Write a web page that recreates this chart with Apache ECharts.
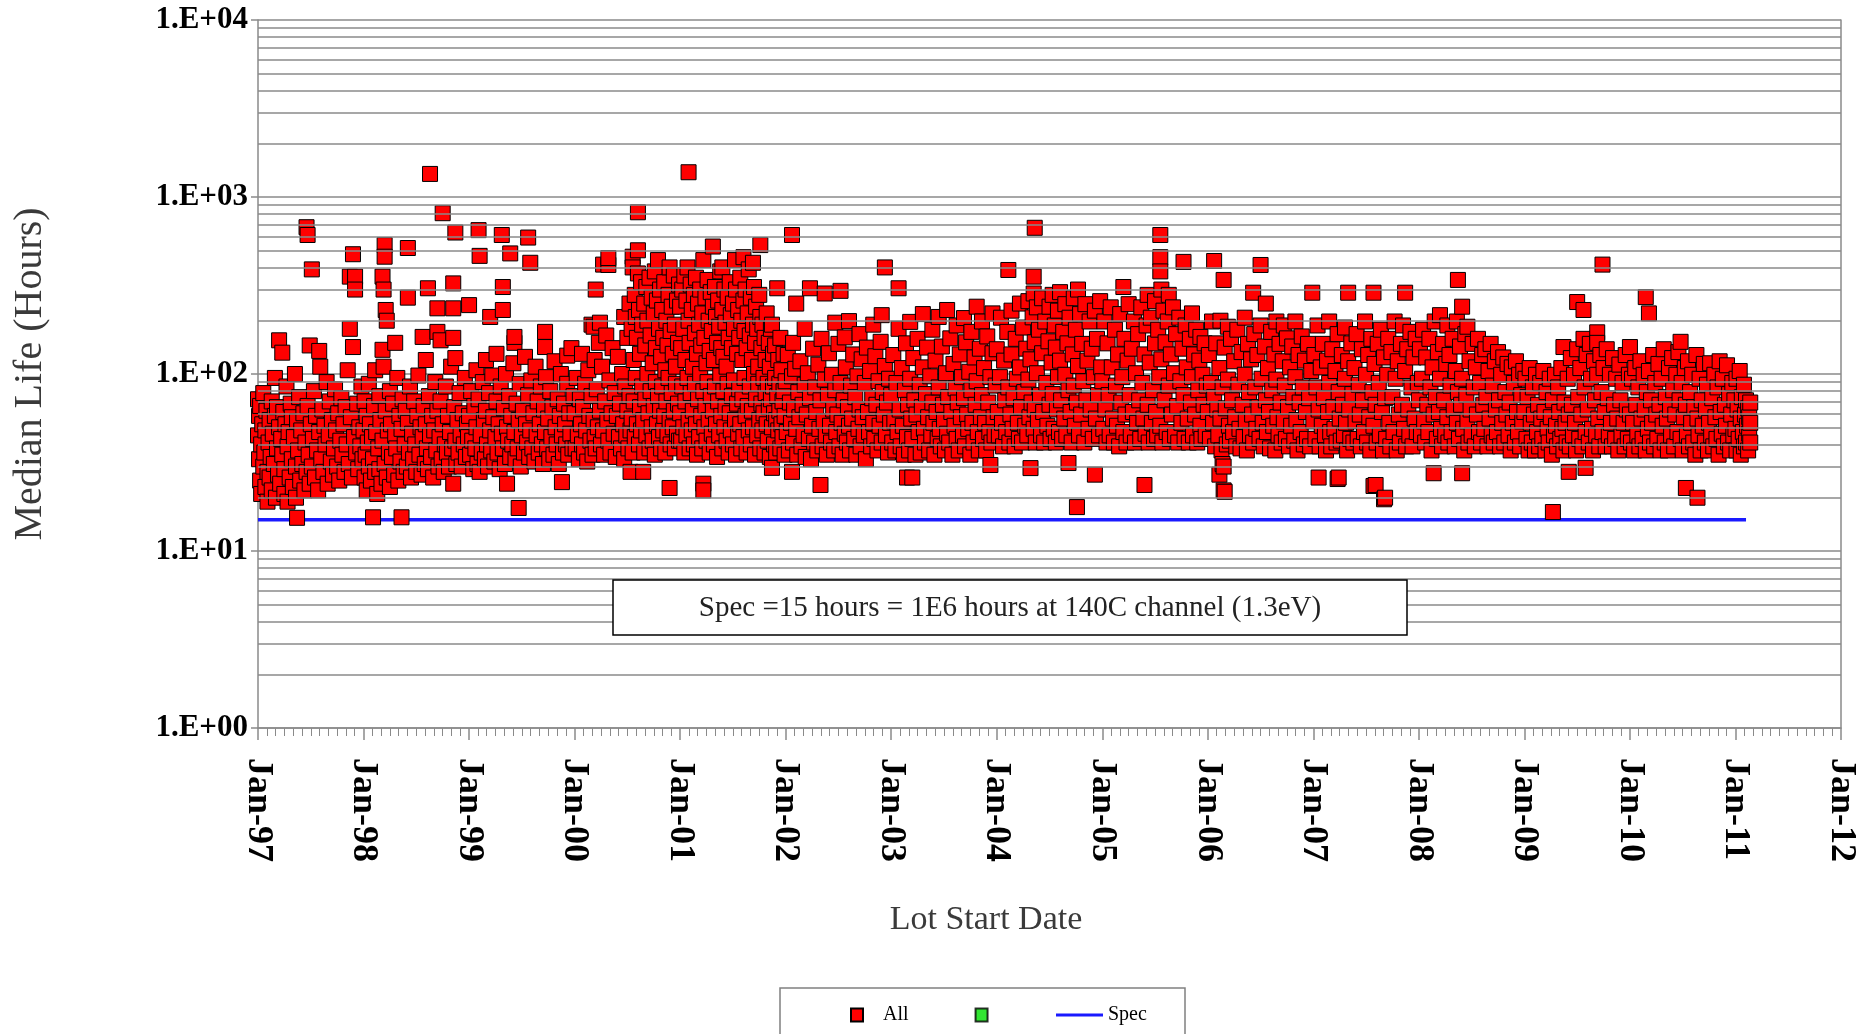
<!DOCTYPE html>
<html>
<head>
<meta charset="utf-8">
<script src="https://cdn.jsdelivr.net/npm/echarts@6/dist/echarts.min.js"></script>
<style>
html,body{margin:0;padding:0;background:#fff;}
#chart{width:1862px;height:1034px;}
</style>
</head>
<body>
<div id="chart"></div>
<script>
// Each entry: [hundredths of the year, median life in hours]
const lots1997 = [[0,72],[0,45],[1,33],[1,58],[2,25],[2,66],[3,40],[3,21],[4,52],[5,30],[5,78],[6,36],[7,23],[7,48],[8,62],[9,28],[9,19],[10,41],[11,55],[11,26],[12,34],[13,70],[13,22],[14,46],[15,31],[16,95],[16,58],[17,20],[18,38],[18,65],[19,27],[20,155],[20,50],[21,24],[22,43],[23,132],[23,35],[24,61],[25,21],[25,29],[26,52],[27,85],[28,39],[28,19],[29,47],[30,26],[31,68],[32,33],[32,57],[33,23],[34,44],[35,100],[36,30],[36,20],[37,15.4],[37,54],[38,37],[39,74],[40,25],[41,48],[42,31],[43,60],[44,22],[45,41],[46,675],[46,28],[47,610],[47,66],[48,35],[49,145],[49,24],[50,52],[51,390],[51,30],[52,43],[53,80],[54,26],[55,58],[56,37],[57,22],[58,135],[58,47],[59,110],[60,33],[61,63],[62,28],[63,51],[64,40],[65,90],[66,24],[67,45],[68,70],[69,32],[70,55],[71,27],[72,38],[73,82],[74,48],[75,30],[76,60],[77,25],[78,42],[79,73],[80,35],[81,52],[82,28],[83,65],[84,40],[85,105],[86,31],[87,355],[87,180],[88,57],[89,26],[90,475],[90,142],[91,44],[92,355],[92,300],[93,36],[94,68],[95,29],[96,50],[97,39],[98,85],[99,33]];
const lots1998 = [[0,48],[1,26],[1,70],[2,35],[3,22],[3,58],[4,41],[5,30],[5,88],[6,52],[7,25],[8,44],[9,15.5],[9,33],[10,66],[11,28],[11,105],[12,47],[13,21],[14,38],[15,75],[15,29],[16,55],[17,24],[18,137],[18,355],[18,42],[19,110],[19,300],[20,535],[20,460],[20,31],[21,230],[21,62],[22,200],[22,26],[23,48],[24,36],[25,80],[25,23],[26,52],[27,34],[28,68],[29,27],[30,150],[30,45],[31,38],[32,95],[33,25],[34,58],[35,32],[36,15.5],[36,49],[37,72],[38,28],[39,40],[40,62],[41,30],[42,515],[42,270],[42,53],[43,36],[44,85],[45,26],[46,46],[47,33],[48,70],[49,40],[50,28],[51,58],[52,98],[53,35],[54,50],[55,27],[56,162],[56,44],[57,66],[58,31],[59,120],[59,52],[60,38],[61,305],[61,29],[62,75],[63,1350],[63,45],[64,34],[65,58],[66,26],[67,48],[68,90],[69,37],[70,235],[70,173],[70,62],[71,30],[72,44],[73,155],[73,70],[74,33],[75,810],[75,52],[76,28],[77,40],[78,85],[79,36],[80,58],[81,30],[82,47],[83,110],[84,38],[85,235],[85,325],[85,24],[85,160],[86,65],[87,630],[87,123],[87,42],[88,31],[89,55],[90,36],[91,78],[92,45],[93,30],[94,60],[95,40],[96,95],[97,34],[98,52],[99,44]];
const lots1999 = [[0,245],[0,58],[1,35],[2,80],[3,42],[4,29],[5,66],[6,38],[7,105],[7,50],[8,31],[9,650],[9,72],[10,465],[10,28],[11,45],[12,36],[13,90],[14,55],[15,33],[16,120],[16,62],[17,40],[18,30],[19,78],[20,210],[20,48],[21,37],[22,98],[23,57],[24,32],[25,44],[26,130],[26,70],[27,36],[28,52],[29,29],[30,85],[31,610],[31,46],[32,310],[32,230],[32,38],[33,64],[34,31],[35,100],[36,24],[36,50],[37,42],[38,75],[39,480],[39,34],[40,58],[41,40],[42,115],[43,150],[43,162],[43,47],[44,33],[45,68],[46,38],[47,17.5],[47,55],[48,88],[49,30],[50,45],[51,62],[52,36],[53,125],[54,52],[55,41],[56,590],[56,76],[57,34],[58,425],[58,48],[59,92],[60,38],[61,60],[62,32],[63,110],[64,45],[65,70],[66,36],[67,52],[68,85],[69,40],[70,31],[71,63],[72,173],[72,142],[72,47],[73,96],[74,38],[75,56],[76,33],[77,80],[78,44],[79,65],[80,35],[81,118],[82,50],[83,40],[84,72],[85,31],[86,58],[87,100],[88,24.5],[88,45],[89,36],[90,68],[91,52],[92,40],[93,127],[93,88],[94,35],[95,60],[96,46],[97,140],[98,38],[99,75]];
const lots2000 = [[0,60],[1,38],[2,95],[3,45],[4,33],[5,72],[6,52],[7,130],[7,40],[8,65],[9,36],[10,88],[11,48],[12,32],[13,105],[14,58],[15,42],[16,190],[16,75],[17,35],[18,185],[18,55],[19,120],[19,44],[20,300],[20,38],[21,82],[22,50],[23,150],[24,195],[24,62],[25,40],[26,110],[27,415],[27,48],[28,35],[29,70],[30,165],[31,55],[32,413],[32,452],[32,42],[33,92],[34,36],[35,60],[36,140],[37,46],[38,78],[39,34],[40,58],[41,125],[42,44],[43,68],[44,38],[45,100],[46,52],[47,210],[47,33],[48,85],[49,45],[50,160],[50,62],[51,38],[52,250],[52,75],[53,28],[53,48],[54,180],[54,56],[55,460],[55,400],[55,36],[56,120],[56,70],[57,280],[57,44],[58,210],[58,95],[59,160],[59,52],[60,820],[60,500],[60,370],[61,230],[61,40],[62,130],[62,65],[63,330],[63,48],[64,190],[64,85],[65,28],[65,55],[66,250],[66,36],[67,145],[67,72],[68,310],[68,45],[69,200],[69,100],[70,60],[71,350],[71,38],[72,165],[72,80],[73,270],[73,50],[74,115],[74,42],[75,220],[75,66],[76,380],[76,35],[77,140],[77,90],[78,260],[78,52],[79,440],[79,75],[80,180],[80,44],[81,300],[81,62],[82,125],[82,38],[83,230],[83,85],[84,160],[84,48],[85,330],[85,58],[86,105],[86,36],[87,200],[87,70],[88,145],[88,45],[89,280],[89,95],[90,400],[90,22.7],[90,55],[91,175],[91,40],[92,240],[92,78],[93,130],[93,50],[94,360],[94,62],[95,190],[95,38],[96,110],[96,88],[97,260],[97,46],[98,150],[98,68],[99,320],[99,42]];
const lots2001 = [[0,240],[0,60],[1,140],[1,42],[2,300],[2,85],[3,180],[3,50],[4,360],[4,36],[5,120],[5,70],[6,260],[6,45],[7,400],[7,95],[8,1380],[8,200],[8,55],[9,150],[9,38],[10,320],[10,78],[11,230],[11,48],[12,110],[12,62],[13,280],[13,40],[14,170],[14,88],[15,350],[15,52],[16,130],[16,35],[17,250],[17,72],[18,190],[18,44],[19,300],[19,100],[20,145],[20,58],[21,220],[21,38],[22,440],[22,24],[22,22],[22,80],[23,160],[23,50],[24,270],[24,66],[25,115],[25,42],[26,340],[26,90],[27,200],[27,55],[28,135],[28,36],[29,290],[29,75],[30,175],[30,46],[31,525],[31,240],[31,62],[32,120],[32,40],[33,310],[33,85],[34,210],[34,52],[35,150],[35,34],[36,260],[36,70],[37,185],[37,45],[38,380],[38,98],[39,140],[39,58],[40,400],[40,230],[40,38],[41,125],[41,80],[42,300],[42,50],[43,195],[43,65],[44,110],[44,42],[45,270],[45,88],[46,160],[46,36],[47,330],[47,60],[48,215],[48,48],[49,140],[49,75],[50,250],[50,40],[51,180],[51,92],[52,440],[52,55],[53,300],[53,35],[54,130],[54,68],[55,230],[55,46],[56,160],[56,82],[57,350],[57,52],[58,200],[58,38],[59,120],[59,72],[60,457],[60,260],[60,44],[61,175],[61,95],[62,300],[62,58],[63,140],[63,36],[64,220],[64,66],[65,390],[65,48],[66,165],[66,85],[67,270],[67,40],[68,120],[68,62],[69,425],[69,190],[69,50],[70,310],[70,100],[71,150],[71,35],[72,240],[72,72],[73,180],[73,45],[74,110],[74,88],[75,280],[75,55],[76,535],[76,210],[76,38],[77,140],[77,68],[78,190],[78,48],[79,95],[79,60],[80,160],[80,36],[81,120],[81,78],[82,220],[82,52],[83,88],[83,42],[84,150],[84,65],[85,110],[85,34],[86,180],[86,72],[87,190],[87,29.5],[87,50],[88,130],[88,85],[89,60],[89,40],[90,145],[90,95],[91,55],[91,36],[92,305],[92,75],[93,120],[93,48],[94,88],[94,62],[95,160],[95,38],[96,105],[96,52],[97,70],[97,44],[98,130],[98,80],[99,58],[99,35]];
const lots2002 = [[0,91],[1,47],[2,128],[3,37],[4,69],[5,53],[6,610],[6,28],[6,97],[7,150],[7,41],[8,63],[9,107],[10,250],[10,49],[11,35],[12,79],[13,57],[14,118],[15,39],[16,67],[17,45],[18,180],[18,87],[19,34],[20,59],[21,101],[22,43],[23,305],[23,73],[24,33],[25,51],[26,139],[27,41],[28,84],[29,61],[30,37],[31,113],[32,49],[33,23.6],[33,71],[34,158],[35,39],[36,54],[37,285],[37,93],[38,45],[39,35],[40,76],[41,131],[42,51],[43,41],[44,99],[45,63],[46,37],[47,195],[47,81],[48,47],[49,59],[50,148],[51,39],[52,295],[52,89],[53,53],[54,35],[55,71],[56,161],[56,46],[57,109],[58,41],[59,65],[60,199],[60,51],[61,37],[62,86],[63,56],[64,129],[65,43],[66,74],[67,35],[68,97],[69,49],[70,168],[70,63],[71,39],[72,121],[73,57],[74,45],[75,89],[76,33],[77,141],[78,61],[79,47],[80,104],[81,39],[82,73],[83,190],[83,53],[84,43],[85,126],[86,67],[87,37],[88,91],[89,51],[90,152],[91,215],[91,41],[92,79],[93,59],[94,400],[94,111],[95,45],[96,69],[97,36],[98,94],[99,53]];
const lots2003 = [[0,76],[1,41],[2,128],[3,54],[4,37],[5,89],[6,47],[7,305],[7,180],[8,63],[9,39],[10,108],[11,51],[12,35],[13,81],[14,149],[15,26],[15,44],[16,67],[17,37],[18,197],[18,94],[19,56],[20,26],[20,43],[21,123],[22,71],[23,35],[24,59],[25,158],[26,47],[27,87],[28,36],[29,65],[30,218],[30,109],[31,49],[32,41],[33,77],[34,141],[35,57],[36,37],[37,97],[38,45],[39,178],[39,69],[40,53],[41,35],[42,119],[43,61],[44,43],[45,210],[45,84],[46,49],[47,39],[48,143],[49,67],[50,55],[51,37],[52,101],[53,230],[53,46],[54,74],[55,41],[56,159],[57,61],[58,35],[59,114],[60,51],[61,83],[62,188],[62,43],[63,69],[64,37],[65,129],[66,57],[67,96],[68,45],[69,207],[69,73],[70,39],[71,151],[72,59],[73,49],[74,103],[75,35],[76,173],[76,81],[77,53],[78,41],[79,124],[80,67],[81,240],[81,91],[82,47],[83,37],[84,139],[85,57],[86,198],[86,76],[87,43],[88,108],[89,53],[90,37],[91,163],[92,69],[93,47],[94,30.6],[94,96],[95,41],[96,220],[96,131],[97,57],[98,45],[99,86]];
const lots2004 = [[0,138],[1,61],[2,45],[3,96],[4,208],[5,53],[6,39],[7,119],[8,71],[9,47],[10,173],[11,387],[11,84],[12,41],[13,59],[14,228],[14,129],[15,49],[16,73],[17,39],[18,158],[19,94],[20,53],[21,43],[22,250],[22,109],[23,65],[24,41],[25,183],[26,79],[27,51],[28,139],[29,45],[30,258],[30,93],[31,57],[32,29.4],[32,121],[33,69],[34,209],[35,285],[35,355],[35,49],[36,670],[36,151],[36,63],[37,41],[38,238],[38,101],[39,55],[40,178],[41,76],[42,45],[43,268],[43,131],[44,61],[45,41],[46,198],[47,89],[48,51],[49,153],[50,240],[50,67],[51,43],[52,116],[53,280],[53,77],[54,49],[55,188],[56,141],[56,41],[57,63],[58,228],[58,96],[59,47],[60,290],[60,119],[61,71],[62,43],[63,173],[64,56],[65,248],[65,99],[66,45],[67,149],[68,31.4],[68,81],[69,208],[70,61],[71,41],[72,129],[73,268],[73,86],[74,51],[75,178],[76,17.7],[76,69],[77,300],[77,111],[78,45],[79,218],[80,59],[81,148],[82,91],[83,41],[84,248],[85,71],[86,119],[87,49],[88,198],[89,63],[90,139],[91,43],[92,96],[93,27],[93,228],[94,56],[95,158],[96,76],[97,45],[98,258],[99,109]];
const lots2005 = [[0,91],[1,49],[2,198],[3,63],[4,41],[5,149],[6,76],[7,45],[8,238],[9,109],[10,56],[11,41],[12,178],[13,86],[14,51],[15,129],[16,39],[17,218],[18,69],[19,96],[20,310],[20,47],[21,158],[22,59],[23,41],[24,119],[25,248],[26,76],[27,45],[28,139],[29,61],[30,198],[31,41],[32,101],[33,53],[34,168],[35,71],[36,43],[37,238],[38,89],[39,56],[40,23.6],[40,129],[41,46],[42,188],[43,280],[43,67],[44,41],[45,116],[46,208],[47,53],[48,81],[49,43],[50,258],[50,149],[51,61],[52,45],[53,178],[54,96],[55,610],[55,457],[55,380],[55,51],[56,300],[56,121],[57,41],[58,228],[59,71],[60,151],[61,47],[62,198],[63,280],[63,86],[64,43],[65,129],[66,59],[67,238],[68,101],[69,45],[70,168],[71,66],[72,41],[73,208],[74,91],[75,53],[76,139],[77,430],[77,76],[78,43],[79,188],[80,109],[81,56],[82,41],[83,158],[84,69],[85,220],[85,96],[86,45],[87,129],[88,59],[89,178],[90,41],[91,81],[92,119],[93,162],[93,51],[94,43],[95,99],[96,67],[97,149],[98,45],[99,86]];
const lots2006 = [[0,61],[1,128],[2,43],[3,89],[4,198],[5,53],[6,435],[6,74],[7,39],[8,149],[9,63],[10,45],[11,27],[11,108],[12,200],[12,56],[13,37],[14,31],[14,84],[15,340],[15,22],[15,30],[16,21.6],[16,141],[17,64],[18,40],[19,185],[19,93],[20,51],[21,42],[22,158],[23,71],[24,47],[25,118],[26,57],[27,39],[28,178],[29,87],[30,49],[31,38],[32,133],[33,67],[34,44],[35,208],[35,99],[36,54],[37,37],[38,148],[39,79],[40,45],[41,121],[42,59],[43,288],[43,41],[44,168],[45,84],[46,49],[47,128],[48,65],[49,43],[50,413],[50,188],[51,94],[52,53],[53,39],[54,143],[55,250],[55,71],[56,47],[57,108],[58,61],[59,38],[60,173],[61,81],[62,51],[63,129],[64,37],[65,198],[65,93],[66,57],[67,45],[68,148],[69,69],[70,41],[71,118],[72,188],[72,54],[73,86],[74,43],[75,159],[76,65],[77,39],[78,109],[79,51],[80,143],[81,74],[82,42],[83,198],[83,96],[84,55],[85,37],[86,128],[87,69],[88,47],[89,163],[90,84],[91,40],[92,119],[93,61],[94,43],[95,148],[96,73],[97,39],[98,104],[99,288]];
const lots2007 = [[0,54],[1,128],[2,43],[3,84],[4,188],[5,26],[5,63],[6,39],[7,109],[8,51],[9,148],[10,73],[11,45],[12,37],[13,119],[14,61],[15,198],[15,89],[16,47],[17,39],[18,138],[19,65],[20,49],[21,104],[22,41],[23,25.5],[23,168],[24,26],[24,79],[25,56],[26,42],[27,128],[28,67],[29,45],[30,183],[30,94],[31,53],[32,37],[33,288],[33,118],[34,63],[35,43],[36,149],[37,77],[38,41],[39,108],[40,54],[41,168],[42,43],[43,87],[44,59],[45,39],[46,138],[47,71],[48,47],[49,198],[50,99],[51,41],[52,128],[53,57],[54,37],[55,158],[56,79],[57,23.3],[57,288],[57,51],[58,114],[59,23.6],[59,67],[60,41],[61,148],[62,89],[63,45],[64,178],[65,61],[66,37],[67,19.6],[67,124],[68,20],[68,73],[69,43],[70,99],[71,158],[72,53],[73,39],[74,133],[75,74],[76,47],[77,198],[78,94],[79,37],[80,118],[81,59],[82,41],[83,148],[84,67],[85,188],[86,49],[87,288],[87,104],[88,39],[89,138],[90,63],[91,45],[92,173],[93,84],[94,39],[95,124],[96,56],[97,158],[98,47],[99,89]];
const lots2008 = [[0,71],[1,138],[2,45],[3,94],[4,178],[5,54],[6,41],[7,124],[8,67],[9,47],[10,158],[11,84],[12,37],[13,109],[14,27.5],[14,59],[15,198],[16,74],[17,43],[18,133],[19,61],[20,215],[20,94],[21,49],[22,39],[23,148],[24,71],[25,45],[26,114],[27,188],[27,57],[28,41],[29,128],[30,86],[31,47],[32,158],[33,63],[34,39],[35,104],[36,198],[36,53],[37,340],[37,79],[38,43],[39,143],[40,67],[41,240],[41,27.5],[41,94],[42,49],[43,37],[44,168],[45,76],[46,185],[46,54],[47,41],[48,118],[49,63],[50,45],[51,148],[52,84],[53,39],[54,109],[55,59],[56,158],[57,47],[58,89],[59,41],[60,128],[61,67],[62,49],[63,138],[64,74],[65,39],[66,104],[67,56],[68,148],[69,45],[70,86],[71,41],[72,118],[73,63],[74,47],[75,133],[76,71],[77,39],[78,99],[79,53],[80,124],[81,41],[82,79],[83,59],[84,114],[85,45],[86,69],[87,37],[88,109],[89,53],[90,89],[91,41],[92,118],[93,61],[94,47],[95,99],[96,39],[97,76],[98,54],[99,104]];
const lots2009 = [[0,61],[1,94],[2,43],[3,74],[4,37],[5,108],[6,53],[7,41],[8,84],[9,59],[10,37],[11,99],[12,47],[13,67],[14,39],[15,89],[16,56],[17,43],[18,104],[19,61],[20,37],[21,79],[22,49],[23,41],[24,94],[25,57],[26,35],[27,16.6],[27,71],[28,45],[29,99],[30,51],[31,39],[32,84],[33,61],[34,43],[35,108],[36,49],[37,142],[37,37],[38,69],[39,53],[40,41],[41,94],[42,28],[42,59],[43,39],[44,123],[45,67],[46,45],[47,99],[48,53],[49,37],[50,255],[50,138],[51,74],[52,43],[53,108],[54,59],[55,39],[56,230],[56,158],[57,84],[58,29.5],[58,47],[59,128],[60,63],[61,41],[62,148],[63,94],[64,49],[65,37],[66,118],[67,71],[68,45],[69,172],[69,150],[69,99],[70,56],[71,39],[72,128],[73,79],[74,415],[74,47],[75,108],[76,61],[77,39],[78,138],[79,73],[80,45],[81,99],[82,53],[83,39],[84,123],[85,67],[86,43],[87,94],[88,56],[89,37],[90,113],[91,71],[92,45],[93,89],[94,53],[95,39],[96,128],[97,63],[98,43],[99,99]];
const lots2010 = [[0,142],[0,59],[1,41],[2,94],[3,53],[4,37],[5,108],[6,67],[7,45],[8,84],[9,39],[10,118],[11,56],[12,43],[13,99],[14,63],[15,272],[15,37],[16,79],[17,49],[18,220],[18,104],[19,41],[20,71],[21,53],[22,128],[23,39],[24,89],[25,59],[26,43],[27,114],[28,67],[29,37],[30,94],[31,51],[32,138],[33,41],[34,74],[35,56],[36,37],[37,108],[38,63],[39,45],[40,123],[41,81],[42,39],[43,59],[44,99],[45,47],[46,133],[47,71],[48,152],[48,43],[49,89],[50,37],[51,57],[52,108],[53,22.7],[53,67],[54,45],[55,118],[56,39],[57,79],[58,53],[59,99],[60,41],[61,65],[62,35],[63,128],[64,20],[64,56],[65,45],[66,94],[67,37],[68,71],[69,51],[70,114],[71,41],[72,63],[73,87],[74,37],[75,53],[76,115],[77,45],[78,73],[79,39],[80,99],[81,57],[82,43],[83,84],[84,35],[85,118],[86,61],[87,46],[88,94],[89,39],[90,67],[91,51],[92,112],[93,41],[94,77],[95,37],[96,59],[97,89],[98,45],[99,71]];
const lots2011 = [[0,49],[1,94],[1,37],[2,63],[3,43],[4,104],[5,56],[5,35],[6,74],[7,47],[8,39],[8,87],[9,59],[10,41],[10,71],[11,51],[12,37],[12,64],[13,46],[13,57],[14,69],[14,41],[14,53]];

const lotYears = [1997,1998,1999,2000,2001,2002,2003,2004,2005,2006,2007,2008,2009,2010,2011];
const lotTables = [lots1997,lots1998,lots1999,lots2000,lots2001,lots2002,lots2003,lots2004,lots2005,lots2006,lots2007,lots2008,lots2009,lots2010,lots2011];

const specHours = 15;
const specSpan = [1997, 2011.1];
const yDecades = [1, 10, 100, 1000, 10000];
const xYearMin = 1997, xYearMax = 2012;
const specNote = 'Spec =15 hours = 1E6 hours at 140C channel (1.3eV)';

// build scatter data
const allData = [];
lotTables.forEach((tbl, i) => {
  tbl.forEach(p => allData.push([lotYears[i] + p[0] / 100, p[1]]));
});
// minor log grid lines (2..9 within each decade)
const minorGrid = [];
for (let d = 0; d < yDecades.length - 1; d++) {
  for (let k = 2; k <= 9; k++) minorGrid.push({ yAxis: yDecades[d] * k });
}

const FONT = '"Liberation Serif","Times New Roman",serif';
const GRID = '#8a8a8a';
const chart = echarts.init(document.getElementById('chart'), null, { renderer: 'canvas' });
chart.setOption({
  animation: false,
  backgroundColor: '#ffffff',
  grid: { left: 258, right: 21, top: 20, bottom: 306 },
  xAxis: {
    type: 'value', min: xYearMin, max: xYearMax, interval: 1,
    name: 'Lot Start Date', nameLocation: 'middle', nameGap: 175,
    nameTextStyle: { fontFamily: FONT, fontSize: 34, color: '#3a3a3a', padding: [0, 127, 0, 0] },
    axisLine: { show: true, lineStyle: { color: GRID, width: 1.5 } },
    axisTick: { show: true, length: 12, lineStyle: { color: GRID, width: 1.5 } },
    minorTick: { show: true, splitNumber: 12, length: 8, lineStyle: { color: GRID, width: 1 } },
    splitLine: { show: false },
    axisLabel: {
      rotate: -90, margin: 30, fontFamily: FONT, fontWeight: 'bold', fontSize: 36, color: '#000',
      formatter: v => 'Jan-' + String(Math.round(v)).slice(2)
    }
  },
  yAxis: [{
    type: 'log', logBase: 10, min: 1, max: 10000,
    name: 'Median Life (Hours)', nameLocation: 'middle', nameGap: 208, nameRotate: 90,
    nameTextStyle: { fontFamily: FONT, fontSize: 40, color: '#3a3a3a' },
    axisLine: { show: true, lineStyle: { color: GRID, width: 1.5 } },
    axisTick: { show: true, length: 7, lineStyle: { color: GRID, width: 1.5 } },
    splitLine: { show: true, lineStyle: { color: GRID, width: 1.5 } },
    axisLabel: {
      margin: 10, fontFamily: FONT, fontWeight: 'bold', fontSize: 31, color: '#000',
      formatter: v => '1.E+' + String(Math.round(Math.log10(v))).padStart(2, '0')
    }
  }, {
    type: 'log', logBase: 10, min: 1, max: 10000, position: 'right',
    axisLine: { show: true, lineStyle: { color: GRID, width: 1.5 } },
    axisTick: { show: false }, axisLabel: { show: false }, splitLine: { show: false }
  }],
  legend: [{
    data: ['All', ' '],
    left: 845, top: 1000, itemWidth: 12, itemHeight: 13, itemGap: 66,
    formatter: n => (n === 'All' ? '   All' : n),
    textStyle: { fontFamily: FONT, fontSize: 20, color: '#000' }
  }, {
    data: [{ name: 'Spec', icon: 'rect' }],
    left: 1051, top: 1000, itemWidth: 47, itemHeight: 3,
    textStyle: { fontFamily: FONT, fontSize: 20, color: '#000' }
  }],
  graphic: [{
    type: 'rect', shape: { x: 613, y: 580, width: 794, height: 55 }, z: 50,
    style: { fill: '#fff', stroke: '#000', lineWidth: 1.5 }
  }, {
    type: 'text', x: 1010, y: 608, z: 51,
    style: { text: specNote, fontFamily: FONT, fontSize: 29, fill: '#222', align: 'center', verticalAlign: 'middle' }
  }, {
    type: 'rect', shape: { x: 780, y: 988, width: 405, height: 70 }, z: 1, silent: true,
    style: { fill: 'none', stroke: '#808080', lineWidth: 1.5 }
  }],
  series: [{
    name: 'grid-minor', type: 'line', data: [], z: 1, silent: true,
    markLine: {
      silent: true, symbol: ['none', 'none'], animation: false,
      label: { show: false },
      lineStyle: { color: GRID, width: 1.5, type: 'solid' },
      data: minorGrid
    }
  }, {
    name: 'Spec', type: 'line', symbol: 'none', z: 2,
    data: [[specSpan[0], specHours], [specSpan[1], specHours]],
    lineStyle: { color: '#1a1aff', width: 3.5 },
    itemStyle: { color: '#1a1aff' }
  }, {
    name: 'All', type: 'scatter', symbol: 'rect', symbolSize: 15, z: 3, large: false,
    data: allData,
    itemStyle: { color: '#ff0000', borderColor: '#000', borderWidth: 1, opacity: 1 }
  }, {
    name: ' ', type: 'scatter', symbol: 'rect', symbolSize: 13, z: 3, data: [],
    itemStyle: { color: '#00e000', borderColor: '#000', borderWidth: 1 }
  }]
});
</script>
</body>
</html>
